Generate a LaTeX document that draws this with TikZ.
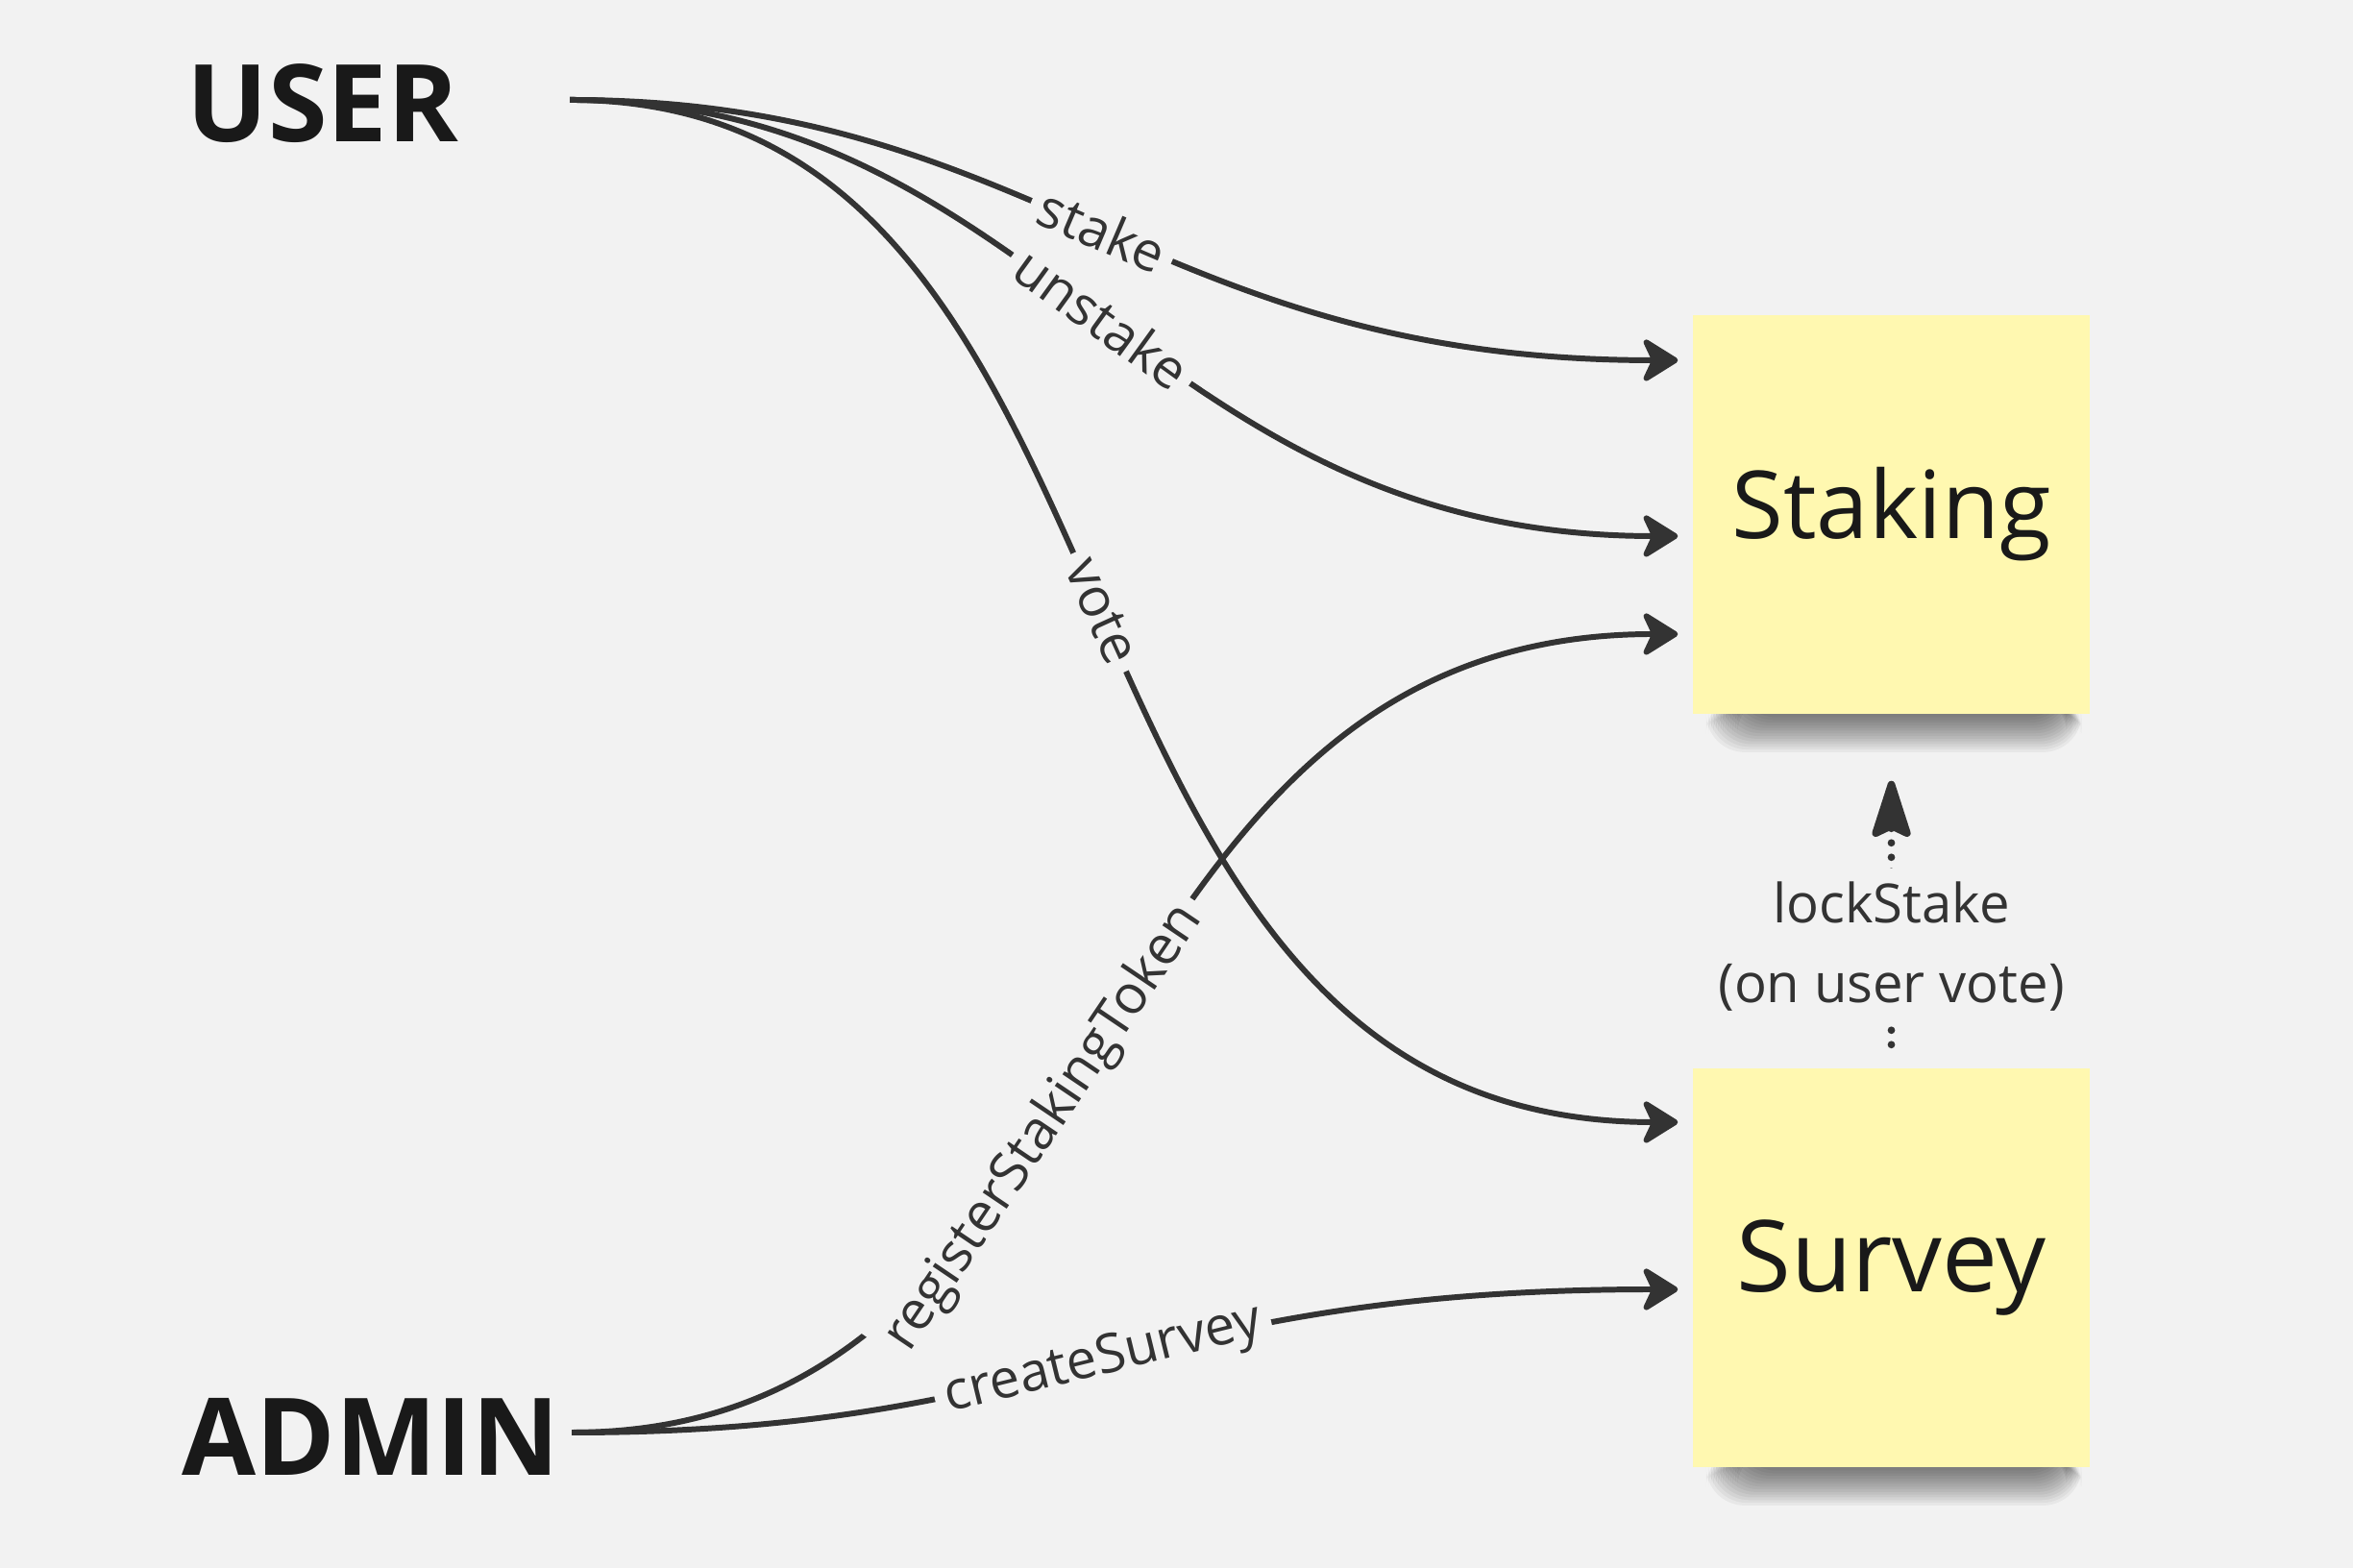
\documentclass[tikz,border=0pt]{standalone}
\usepackage{fontspec}
\setmainfont{Open Sans}
\usetikzlibrary{arrows.meta,positioning,backgrounds,calc}

\definecolor{boardgray}{HTML}{F2F2F2}
\definecolor{inkgray}{HTML}{333333}
\definecolor{stickyyellow}{HTML}{FFF8B0}

\tikzset{
  actor/.style={font=\fontsize{31.8}{38}\selectfont\bfseries, text=black!90, inner sep=0pt},
  sticky/.style={fill=stickyyellow, minimum width=4.13cm, minimum height=4.15cm, inner sep=0pt, text=black!90},
  call/.style={draw=inkgray, line width=1.7pt, -{Stealth[round,length=4.2mm,width=5.2mm,inset=1.2mm]}},
  callname/.style={sloped, fill=boardgray, text=inkgray, font=\fontsize{16}{19}\selectfont, inner sep=3pt},
  lockline/.style={draw=inkgray, line width=2.2pt, line cap=round, dash pattern=on 0pt off 1.5mm,
    -{Stealth[round,length=7mm,width=4.4mm,inset=1mm]}},
  lockname/.style={fill=boardgray, text=inkgray, align=center, font=\fontsize{16}{23.5}\selectfont, inner sep=4pt},
}

\begin{document}
\begin{tikzpicture}
      \begin{scope}[on background layer]
        \fill[boardgray] (0,0) rectangle (24.49,16.32);
      \end{scope}
      \useasboundingbox (0,0) rectangle (24.49,16.32);

      \node[actor] (user) at (3.36,15.245) {USER};
      \node[actor] (admin) at (3.86,1.37) {ADMIN};

      \node[sticky, font=\fontsize{27.8}{34}\selectfont] (staking) at (19.685,10.965) {Staking};
      \node[sticky, font=\fontsize{29.4}{34}\selectfont] (survey) at (19.685,3.125) {Survey};

      \coordinate (userout) at (5.93,15.28);
      \coordinate (adminout) at (5.95,1.41);

      \begin{scope}[on background layer]
        \foreach \s in {staking,survey}
          \foreach \k in {1,...,14}
            \fill[black,opacity=0.045,rounded corners=4mm]
              ($(\s.south west)+(0.12+0.025*\k,0.2)$) rectangle ($(\s.south east)+(-0.08-0.012*\k,-0.42+0.028*\k)$);
      \end{scope}

      \draw[call] (userout) .. controls +(4.9,0) and +(-5.5,0) .. ([xshift=-1.5mm,yshift=1.605cm]staking.west)
        node[callname,pos=0.5] {stake};
      \draw[call] (userout) .. controls +(4.95,0) and +(-5.55,0) .. ([xshift=-1.5mm,yshift=-0.225cm]staking.west)
        node[callname,pos=0.5] {unstake};
      \draw[call] (userout) .. controls +(6.4,0) and +(-7.0,0) .. ([xshift=-1.5mm,yshift=1.515cm]survey.west)
        node[callname,pos=0.5] {vote};

      \draw[call] (adminout) .. controls +(5.9,0) and +(-6.4,0) .. ([xshift=-1.5mm,yshift=-1.245cm]staking.west)
        node[callname,pos=0.42] {registerStakingToken};
      \draw[call] (adminout) .. controls +(5.1,0) and +(-5.7,0) .. ([xshift=-1.5mm,yshift=-0.225cm]survey.west)
        node[callname,pos=0.5] {createSurvey};

      \draw[lockline, shorten <=2.4mm, shorten >=6.9mm] (survey.north) -- (staking.south)
        node[lockname,pos=0.344] {lockStake\\(on user vote)};
    \end{tikzpicture}
\end{document}
